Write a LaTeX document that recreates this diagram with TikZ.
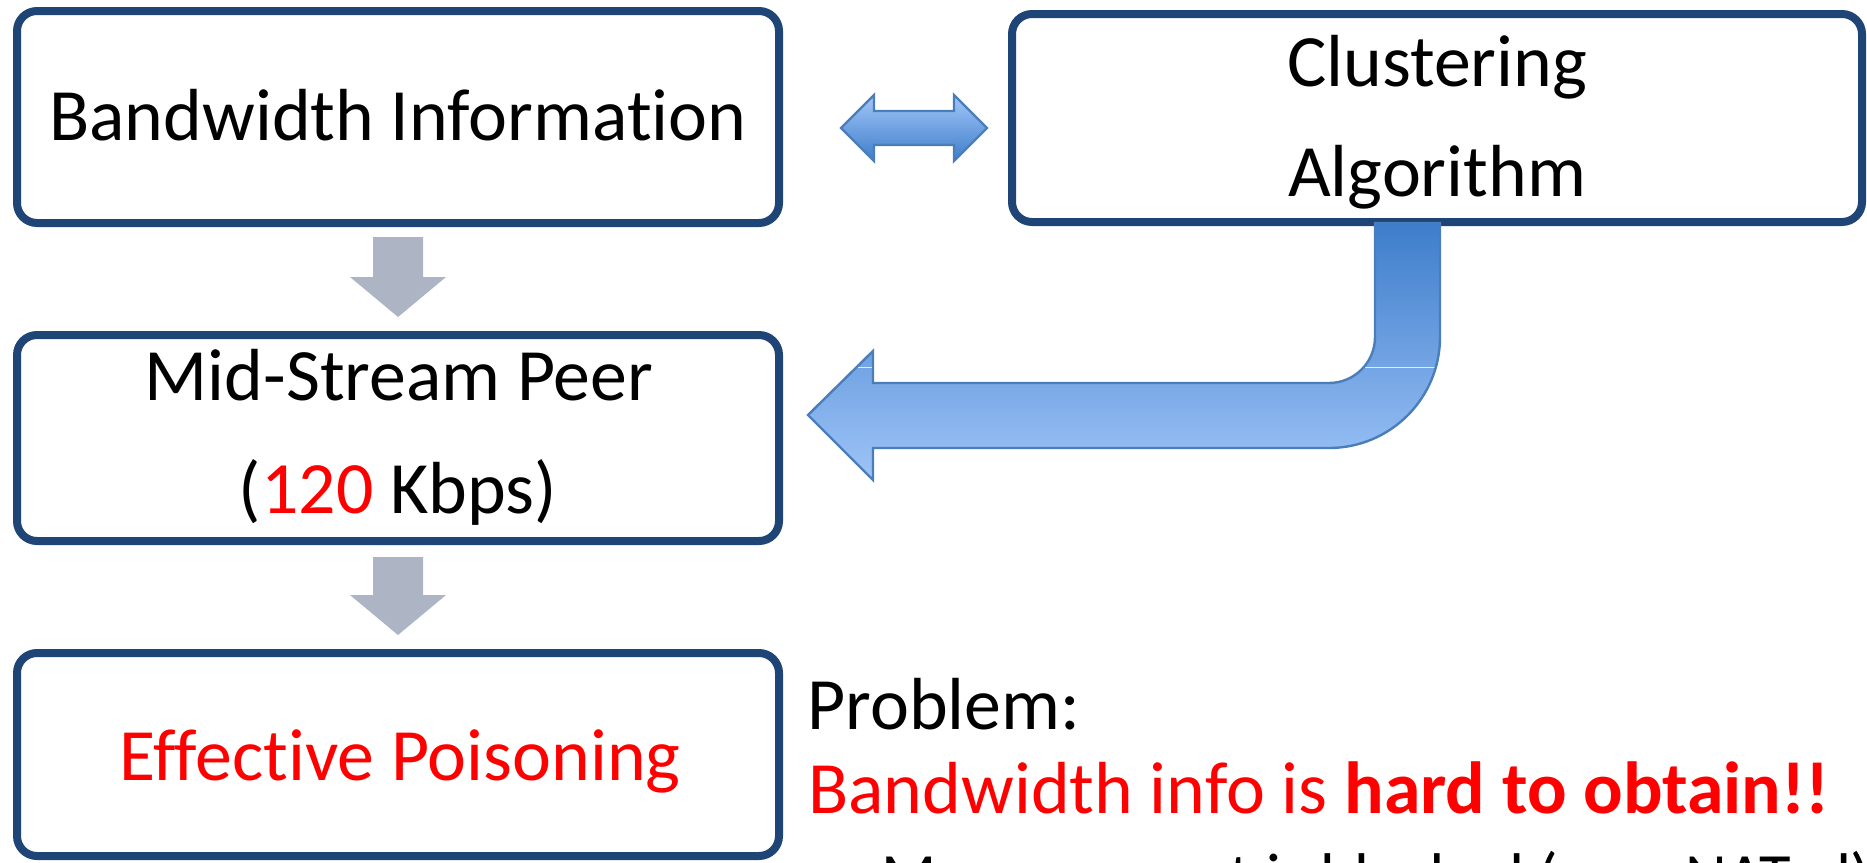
\documentclass[tikz,border=0pt]{standalone}
\usepackage{fontspec}
\setmainfont{Carlito}[Ligatures=NoCommon]
\usetikzlibrary{calc}

\definecolor{boxline}{RGB}{31,69,118}
\definecolor{stepgray}{RGB}{173,181,197}
\definecolor{blueedge}{RGB}{74,126,187}
\definecolor{bluelight}{RGB}{158,196,248}
\definecolor{bluedark}{RGB}{62,125,203}
\definecolor{alertred}{RGB}{255,0,0}

% outline of the bent block arrow, relative to the bottom of the clustering box
\newcommand\bentoutline{%
  (-62,1) -- (3,1) -- (3,115)
  .. controls (3,176.3) and (-46.7,226) .. (-108,226)
  -- (-564,226) -- (-564,258) -- (-629,193) -- (-564,129) -- (-564,161)
  -- (-108,161)
  .. controls (-82.6,161) and (-62,140.4) .. (-62,115) -- cycle}

\begin{document}
\begin{tikzpicture}[x=0.5pt,y=-0.5pt,
  stagebox/.style={draw=boxline, line width=4pt, rounded corners=10pt,
    fill=white, inner sep=0pt, outer sep=0pt, minimum width=381pt},
  boxtext/.style={inner sep=0pt, anchor=base, font=\fontsize{36.9pt}{44pt}\selectfont},
  sidetext/.style={inner sep=0pt, anchor=base west, font=\fontsize{36.9pt}{44pt}\selectfont},
  subtext/.style={inner sep=0pt, anchor=base west, font=\fontsize{32.3pt}{39pt}\selectfont},
  grayblock/.style={fill=stepgray},
  blueblock/.style={draw=blueedge, line width=1.2pt, line join=miter},
]
\useasboundingbox (0,0) rectangle (1867,862);

% boxes
\node[stagebox, minimum height=106pt] (bw) at (398,117) {};
\node[stagebox, minimum width=425pt, minimum height=104pt] (ca) at (1437,118) {};
\node[stagebox, minimum height=103pt] (ms) at (398,438) {};
\node[stagebox, minimum height=101.5pt] (ep) at (398,754.5) {};

% box labels
\node[boxtext] (bwtext) at (398,140) {Bandwidth Information};
\node[boxtext] (catext1) at (1437,86) {Clustering};
\node[boxtext] (catext2) at (1437,196) {Algorithm};
\node[boxtext] (mstext1) at (399,400) {Mid-Stream Peer};
\node[boxtext] (mstext2) at (398,513) {(\textcolor{alertred}{120} Kbps)};
\node[boxtext, text=alertred] (eptext) at (400,780) {Effective Poisoning};

% gray downward block arrows
\fill[grayblock] ($(bw.south)+(-25,14)$) -- ++(50,0) -- ++(0,40) -- ++(23,0)
  -- ++(-48,40) -- ++(-48,-40) -- ++(23,0) -- cycle;
\fill[grayblock] ($(ms.south)+(-25,16)$) -- ++(50,0) -- ++(0,38) -- ++(23,0)
  -- ++(-48,40) -- ++(-48,-40) -- ++(23,0) -- cycle;

% double-headed block arrow between the top boxes
\path[blueblock, top color=bluelight!95!white, bottom color=bluedark]
  ($(bw.east)+(62,11)$) -- ++(33,-33) -- ++(0,16) -- ++(80,0) -- ++(0,-16)
  -- ++(33,33) -- ++(-33,33) -- ++(0,-16) -- ++(-80,0) -- ++(0,16) -- cycle;

% bent block arrow from the clustering box to the mid-stream peer
\begin{scope}[shift={(ca.south)}]
  \path[top color=bluedark, bottom color=bluelight] \bentoutline;
  \begin{scope}
    \clip \bentoutline;
    \draw[white, line width=0.5pt, opacity=0.8] (-640,145) -- (20,145);
  \end{scope}
  \path[blueblock] \bentoutline;
\end{scope}

% problem statement
\node[sidetext] (prob) at (807,729) {Problem:};
\node[sidetext, text=alertred] (hard) at (808,813) {Bandwidth info is \textbf{hard to obtain!!}};
\node[subtext] (dash) at (852,898) {–};
\node[subtext] (meas) at (881,898) {Measurement is blocked (e.g., NATed)};
\end{tikzpicture}
\end{document}
